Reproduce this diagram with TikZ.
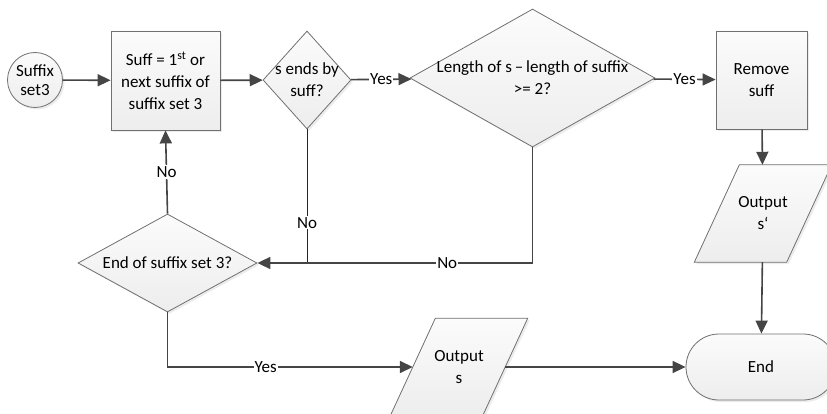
\documentclass[tikz,border=0pt]{standalone}
\usepackage{fontspec}
\setmainfont{Carlito}
\usetikzlibrary{shapes.geometric,arrows.meta,shadows}
\definecolor{lnc}{HTML}{454545}
\definecolor{brd}{HTML}{707070}
\begin{document}
\begin{tikzpicture}[x=1pt,y=-1pt,
  font=\fontsize{17}{22}\selectfont,
  shp/.style={draw=brd, line width=0.8pt, top color=gray!3, bottom color=gray!14,
     drop shadow={shadow xshift=2pt, shadow yshift=-2pt, fill=black!12, opacity=0.6},
     align=center, inner sep=0pt},
  boxnode/.style={shp, rectangle},
  decision/.style={shp, diamond},
  ioanchor/.style={rectangle, draw=none, minimum width=92pt, minimum height=97pt, inner sep=0pt, align=center},
  conn/.style={draw=lnc, line width=1.6pt, -{Triangle[length=13pt,width=12pt]}},
  thinconn/.style={draw=black!85, line width=0.8pt},
  lbl/.style={fill=white, inner sep=1pt, font=\fontsize{17}{22}\selectfont},
  ctext/.style={align=center, font=\fontsize{17}{22}\selectfont}
]
\useasboundingbox (0,0) rectangle (827,414);

\node[shp, circle, minimum size=55pt] (start) at (35,80) {Suffix\\[-3pt]set3};
\node[boxnode, minimum width=109pt, minimum height=99pt] (b1) at (165.5,80.5)
  {Suff = 1\textsuperscript{st} or\\next suffix of\\suffix set 3};
\node[decision, minimum width=88pt, minimum height=98pt,
  label={[ctext]center:s ends by\\suff?}] (d1) at (307,80) {};
\node[decision, minimum width=245pt, minimum height=138pt,
  label={[ctext]center:Length of s\,–\,length of suffix\\>= 2?}] (d2) at (532.5,78) {};
\node[boxnode, minimum width=91pt, minimum height=98pt] (b2) at (761.5,80) {Remove\\suff};
\node[decision, minimum width=179pt, minimum height=98pt,
  label={[ctext]center:End of suffix set 3?}] (d3) at (167.5,263) {};
\node[shp, rectangle, rounded corners=33pt, minimum width=150pt, minimum height=66pt] (e) at (761,367) {End};

% parallelograms (input/output)
\node[ioanchor] (o1) at (763,213.5) {};
\path[shp] ([xshift=-22.5pt]o1.south west) -- ([xshift=-22.5pt]o1.south east)
  -- ([xshift=22.5pt]o1.north east) -- ([xshift=22.5pt]o1.north west) -- cycle;
\node[ctext] (o1t) at (o1.center) {Output\\s‘};
\node[ioanchor] (o2) at (459,367) {};
\path[shp] ([xshift=-22.5pt]o2.south west) -- ([xshift=-22.5pt]o2.south east)
  -- ([xshift=22.5pt]o2.north east) -- ([xshift=22.5pt]o2.north west) -- cycle;
\node[ctext] (o2t) at (o2.center) {Output\\s};

\draw[conn] (start) -- (b1);
\draw[conn] (b1) -- (d1);
\draw[conn] (d1) -- node[lbl]{Yes} (d2);
\draw[conn] (d2) -- node[lbl]{Yes} (b2);
\draw[conn] (b2) -- (o1);
\draw[conn] (o1) -- (e);
\coordinate (j) at (d1.south |- d3.east);
\draw[thinconn] (d1.south) -- node[lbl, pos=0.7]{No} (j);
\draw[conn] (d2.south) |- node[lbl, pos=0.655]{No} (d3.east);
\draw[conn] (d3.north) -- node[lbl]{No} (b1.south);
\draw[conn] (d3.south) |- node[lbl, pos=0.7]{Yes} (o2.west);
\draw[conn] (o2.east) -- (e.west);
\end{tikzpicture}
\end{document}
